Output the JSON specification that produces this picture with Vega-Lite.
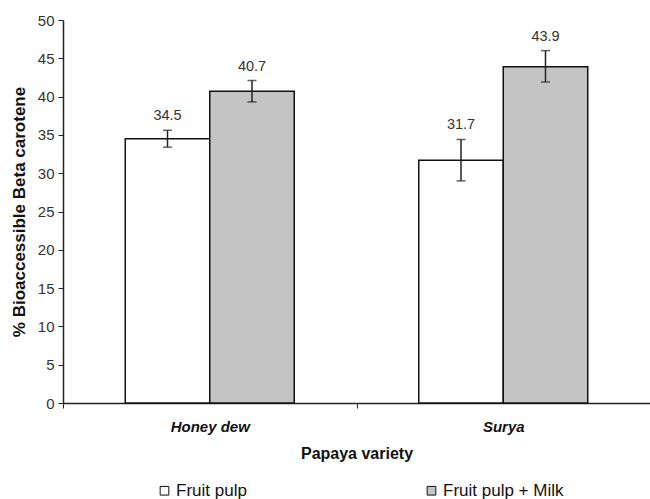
{
  "$schema": "https://vega.github.io/schema/vega-lite/v6.json",
  "width": 587,
  "height": 383,
  "autosize": {"type": "none"},
  "padding": {"left": 63, "top": 20, "right": 0, "bottom": 96},
  "config": {
    "view": {"stroke": null},
    "font": "Liberation Sans",
    "axisY": {
      "title": "% Bioaccessible Beta carotene", "titleFontSize": 17, "titleFontWeight": "bold", "titleColor": "#111", "titlePadding": 9,
      "values": [0, 5, 10, 15, 20, 25, 30, 35, 40, 45, 50], "grid": false, "labelOverlap": false,
      "labelFontSize": 15, "labelColor": "#333", "labelPadding": 4,
      "tickSize": 5, "tickColor": "#222", "domainColor": "#222", "domainWidth": 1.5
    }
  },
  "data": {
    "values": [
      {"variety": "Honey dew", "treatment": "Fruit pulp", "value": 34.5, "lo": 33.4, "hi": 35.6},
      {"variety": "Honey dew", "treatment": "Fruit pulp + Milk", "value": 40.7, "lo": 39.3, "hi": 42.1},
      {"variety": "Surya", "treatment": "Fruit pulp", "value": 31.7, "lo": 29.0, "hi": 34.4},
      {"variety": "Surya", "treatment": "Fruit pulp + Milk", "value": 43.9, "lo": 41.9, "hi": 46.0}
    ]
  },
  "encoding": {
    "x": {
      "field": "variety", "type": "nominal",
      "scale": {"paddingInner": 0, "paddingOuter": 0},
      "axis": {
        "title": "Papaya variety", "titleFontSize": 16, "titleFontWeight": "bold", "titleColor": "#111", "titlePadding": 11,
        "labelAngle": 0, "labelFontSize": 15, "labelFontWeight": "bold", "labelFontStyle": "italic", "labelColor": "#111", "labelPadding": 11,
        "tickBand": "extent", "tickSize": 5, "tickColor": "#222", "domainColor": "#222", "domainWidth": 1.5
      }
    },
    "xOffset": {"field": "treatment", "type": "nominal", "scale": {"paddingInner": 0, "paddingOuter": 0.737}}
  },
  "layer": [
    {
      "mark": {"type": "bar", "stroke": "#111", "strokeWidth": 1.5},
      "encoding": {
        "y": {
          "field": "value", "type": "quantitative",
          "scale": {"domain": [0, 50], "nice": false},
          "axis": {"title": "% Bioaccessible Beta carotene", "values": [0, 5, 10, 15, 20, 25, 30, 35, 40, 45, 50]}
        },
        "fill": {
          "field": "treatment", "type": "nominal",
          "scale": {"domain": ["Fruit pulp", "Fruit pulp + Milk"], "range": ["#ffffff", "#c4c4c4"]},
          "legend": {
            "title": null, "orient": "none", "legendX": 93, "legendY": 462, "direction": "horizontal",
            "columnPadding": 176, "labelFontSize": 17, "labelColor": "#111", "labelOffset": 3,
            "symbolType": "square", "symbolSize": 75, "symbolStrokeColor": "#111", "symbolStrokeWidth": 1
          }
        }
      }
    },
    {
      "mark": {"type": "rule", "stroke": "#222", "strokeWidth": 1.5},
      "encoding": {"y": {"field": "lo", "type": "quantitative", "axis": {"title": "% Bioaccessible Beta carotene", "values": [0, 5, 10, 15, 20, 25, 30, 35, 40, 45, 50]}}, "y2": {"field": "hi"}}
    },
    {
      "mark": {"type": "tick", "color": "#222", "size": 9, "thickness": 1.5},
      "encoding": {"y": {"field": "lo", "type": "quantitative", "axis": {"title": "% Bioaccessible Beta carotene", "values": [0, 5, 10, 15, 20, 25, 30, 35, 40, 45, 50]}}}
    },
    {
      "mark": {"type": "tick", "color": "#222", "size": 9, "thickness": 1.5},
      "encoding": {"y": {"field": "hi", "type": "quantitative", "axis": {"title": "% Bioaccessible Beta carotene", "values": [0, 5, 10, 15, 20, 25, 30, 35, 40, 45, 50]}}}
    },
    {
      "mark": {"type": "text", "baseline": "bottom", "dy": -7, "fontSize": 14.5, "color": "#333"},
      "encoding": {
        "y": {"field": "hi", "type": "quantitative", "axis": {"title": "% Bioaccessible Beta carotene", "values": [0, 5, 10, 15, 20, 25, 30, 35, 40, 45, 50]}},
        "text": {"field": "value", "type": "quantitative", "format": ".1f"}
      }
    }
  ]
}
